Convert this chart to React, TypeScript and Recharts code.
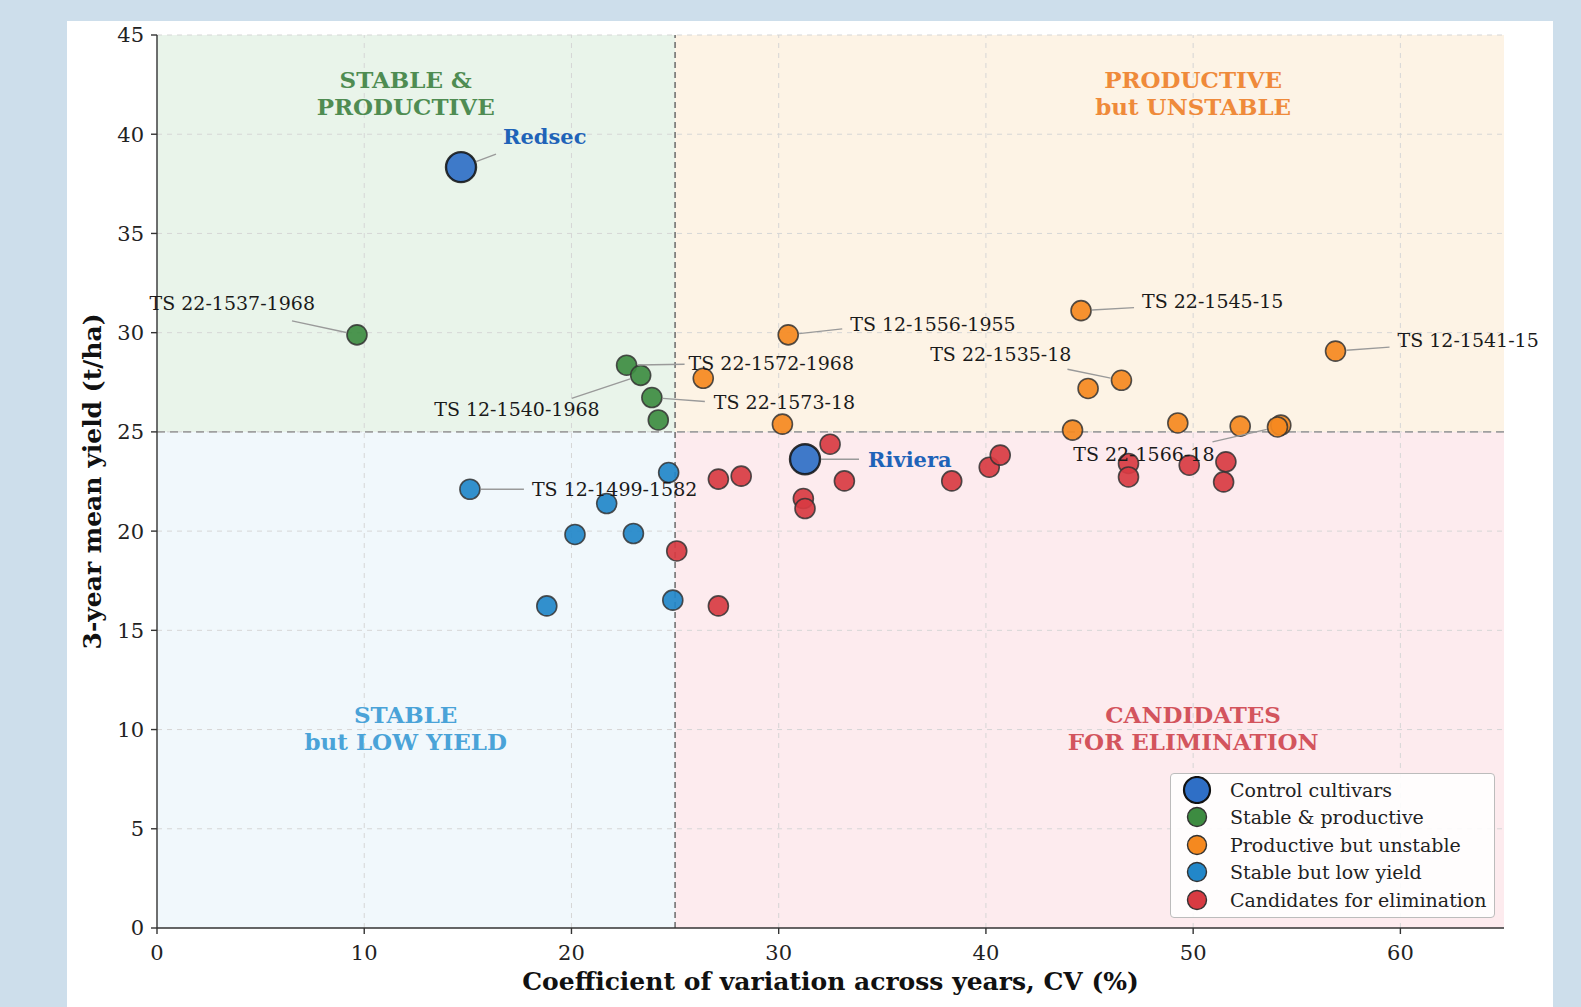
import React from 'react';
import {
  ScatterChart,
  Scatter,
  XAxis,
  YAxis,
  ReferenceArea,
  ReferenceLine,
  Legend,
} from 'recharts';

const SERIF = '"DejaVu Serif", serif';

type Pt = { cv: number; y: number; name?: string };

// values (CV %, 3-year mean yield t/ha)
const controls: Pt[] = [
  { cv: 14.67, y: 38.34, name: 'Redsec' },
  { cv: 31.27, y: 23.62, name: 'Riviera' },
];

const stableProductive: Pt[] = [
  { cv: 9.65, y: 29.89, name: 'TS 22-1537-1968' },
  { cv: 22.66, y: 28.36, name: 'TS 22-1572-1968' },
  { cv: 23.34, y: 27.85, name: 'TS 12-1540-1968' },
  { cv: 23.88, y: 26.73, name: 'TS 22-1573-18' },
  { cv: 24.19, y: 25.6 },
];

const productiveUnstable: Pt[] = [
  { cv: 26.36, y: 27.7 },
  { cv: 30.46, y: 29.89, name: 'TS 12-1556-1955' },
  { cv: 30.18, y: 25.39 },
  { cv: 44.59, y: 31.11, name: 'TS 22-1545-15' },
  { cv: 44.93, y: 27.19 },
  { cv: 46.54, y: 27.6, name: 'TS 22-1535-18' },
  { cv: 44.18, y: 25.09 },
  { cv: 49.26, y: 25.45 },
  { cv: 52.27, y: 25.29 },
  { cv: 54.23, y: 25.34 },
  { cv: 54.07, y: 25.25, name: 'TS 22-1566-18' },
  { cv: 56.87, y: 29.07, name: 'TS 12-1541-15' },
];

const stableLowYield: Pt[] = [
  { cv: 15.1, y: 22.11, name: 'TS 12-1499-1582' },
  { cv: 24.69, y: 22.95 },
  { cv: 21.7, y: 21.39 },
  { cv: 20.17, y: 19.83 },
  { cv: 22.99, y: 19.88 },
  { cv: 18.81, y: 16.23 },
  { cv: 24.89, y: 16.52 },
];

const candidates: Pt[] = [
  { cv: 32.48, y: 24.38 },
  { cv: 27.09, y: 22.62 },
  { cv: 28.19, y: 22.77 },
  { cv: 31.19, y: 21.64 },
  { cv: 31.27, y: 21.14 },
  { cv: 33.17, y: 22.53 },
  { cv: 25.08, y: 19.0 },
  { cv: 27.09, y: 16.23 },
  { cv: 38.35, y: 22.53 },
  { cv: 40.16, y: 23.22 },
  { cv: 40.69, y: 23.83 },
  { cv: 46.88, y: 23.41 },
  { cv: 46.88, y: 22.73 },
  { cv: 49.81, y: 23.32 },
  { cv: 51.58, y: 23.49 },
  { cv: 51.47, y: 22.48 },
];

const xTicks = [0, 10, 20, 30, 40, 50, 60];
const yTicks = [0, 5, 10, 15, 20, 25, 30, 35, 40, 45];
const CV_CUT = 25;
const YIELD_CUT = 25;

const quadrantLabels = [
  { cv: 12, y: 42.1, lines: ['STABLE &', 'PRODUCTIVE'], color: '#4f8c52' },
  { cv: 50, y: 42.1, lines: ['PRODUCTIVE', 'but UNSTABLE'], color: '#ef8a3a' },
  { cv: 12, y: 10.1, lines: ['STABLE', 'but LOW YIELD'], color: '#4aa3d8' },
  { cv: 50, y: 10.1, lines: ['CANDIDATES', 'FOR ELIMINATION'], color: '#d3545d' },
];

// label placement relative to the point, in pixels
const annotations = [
  { name: 'Redsec', tx: 42, ty: -31, anchor: 'start', lx: 35, ly: -13, control: true },
  { name: 'Riviera', tx: 63, ty: 0, anchor: 'start', lx: 54, ly: 0, control: true },
  { name: 'TS 22-1537-1968', tx: -42, ty: -32, anchor: 'end', lx: -65, ly: -14 },
  { name: 'TS 22-1572-1968', tx: 62, ty: -2, anchor: 'start', lx: 58, ly: -1 },
  { name: 'TS 12-1540-1968', tx: -41, ty: 34, anchor: 'end', lx: -69, ly: 23 },
  { name: 'TS 22-1573-18', tx: 62, ty: 4, anchor: 'start', lx: 53, ly: 4 },
  { name: 'TS 12-1499-1582', tx: 62, ty: 0, anchor: 'start', lx: 54, ly: 0 },
  { name: 'TS 12-1556-1955', tx: 62, ty: -11, anchor: 'start', lx: 54, ly: -6 },
  { name: 'TS 22-1545-15', tx: 61, ty: -10, anchor: 'start', lx: 53, ly: -3 },
  { name: 'TS 22-1535-18', tx: -50, ty: -26, anchor: 'end', lx: -54, ly: -11 },
  { name: 'TS 12-1541-15', tx: 62, ty: -11, anchor: 'start', lx: 54, ly: -4 },
  { name: 'TS 22-1566-18', tx: -63, ty: 27, anchor: 'end', lx: -65, ly: 15 },
];

const groups = [
  { key: 'sp', label: 'Stable & productive', data: stableProductive, fill: '#3d8c41' },
  { key: 'pu', label: 'Productive but unstable', data: productiveUnstable, fill: '#f5891f' },
  { key: 'sl', label: 'Stable but low yield', data: stableLowYield, fill: '#2287c9' },
  { key: 'ce', label: 'Candidates for elimination', data: candidates, fill: '#d83b42' },
];
const CONTROL_FILL = '#2f6fc6';
const CONTROL_TEXT = '#1f63b8';

const allPoints: Pt[] = [...controls, ...groups.flatMap((g) => g.data)];
const annotationData = annotations.map((a) => {
  const p = allPoints.find((q) => q.name === a.name)!;
  return { ...a, cv: p.cv, y: p.y };
});

const dot = (fill: string, r: number, stroke = '#333', sw = 1.6) => (props: any) => (
  <circle
    cx={props.cx}
    cy={props.cy}
    r={r}
    fill={fill}
    fillOpacity={0.92}
    stroke={stroke}
    strokeOpacity={0.85}
    strokeWidth={sw}
  />
);

const annotationShape = (props: any) => {
  const { cx, cy, payload } = props;
  const r = payload.control ? 16 : 11;
  const len = Math.hypot(payload.lx, payload.ly) || 1;
  const sx = cx + (payload.lx / len) * r;
  const sy = cy + (payload.ly / len) * r;
  return (
    <g>
      <line x1={sx} y1={sy} x2={cx + payload.lx} y2={cy + payload.ly} stroke="#9a9a9a" strokeWidth={1.4} />
      <text
        x={cx + payload.tx}
        y={cy + payload.ty}
        textAnchor={payload.anchor}
        dominantBaseline="central"
        fontFamily={SERIF}
        fontSize={payload.control ? 21 : 19}
        fontWeight={payload.control ? 'bold' : 'normal'}
        fill={payload.control ? CONTROL_TEXT : '#1a1a1a'}
      >
        {payload.name}
      </text>
    </g>
  );
};

const quadrantShape = (props: any) => {
  const { cx, cy, payload } = props;
  return (
    <g>
      {payload.lines.map((line: string, i: number) => (
        <text
          key={line}
          x={cx}
          y={cy + (i === 0 ? -13.5 : 13.5)}
          textAnchor="middle"
          dominantBaseline="central"
          fontFamily={SERIF}
          fontSize={23}
          fontWeight="bold"
          fill={payload.color}
        >
          {line}
        </text>
      ))}
    </g>
  );
};

const legendItems = [
  { label: 'Control cultivars', fill: CONTROL_FILL, r: 13, stroke: '#111', sw: 2.2 },
  ...groups.map((g) => ({ label: g.label, fill: g.fill, r: 9.5, stroke: '#333', sw: 1.4 })),
];

const renderLegend = () => (
  <div
    style={{
      boxSizing: 'border-box',
      width: 325,
      height: 145,
      background: 'rgba(255,255,255,0.88)',
      border: '1.5px solid #bcbcbc',
      borderRadius: 4,
      paddingTop: 2,
      fontFamily: SERIF,
      fontSize: 19,
      color: '#222',
    }}
  >
    {legendItems.map((it) => (
      <div key={it.label} style={{ display: 'flex', alignItems: 'center', height: 27.5 }}>
        <svg width={54} height={28} style={{ flex: 'none' }}>
          <circle cx={26} cy={14} r={it.r} fill={it.fill} stroke={it.stroke} strokeWidth={it.sw} />
        </svg>
        <span style={{ marginLeft: 5, whiteSpace: 'nowrap' }}>{it.label}</span>
      </div>
    ))}
  </div>
);

const gridStyle = { stroke: '#d6d6d6', strokeDasharray: '5 5', strokeWidth: 1 };

export default function App() {
  return (
    <div
      style={{
        position: 'fixed',
        left: 0,
        top: 0,
        width: 1581,
        height: 1007,
        background: '#cddeeb',
        overflow: 'hidden',
      }}
    >
      <div
        style={{
          position: 'absolute',
          left: 67,
          top: 21,
          width: 1486,
          height: 1000,
          background: '#ffffff',
        }}
      />
      <div style={{ position: 'absolute', left: 0, top: 0 }}>
        <ScatterChart width={1581} height={1007} margin={{ top: 35, right: 77, bottom: 29, left: 97 }}>
          <XAxis
            type="number"
            dataKey="cv"
            domain={[0, 65]}
            ticks={xTicks}
            height={50}
            tickSize={6}
            tickMargin={11}
            stroke="#333"
            strokeWidth={1.4}
            tick={{ fontFamily: SERIF, fontSize: 21, fill: '#222' }}
            label={{
              content: (p: any) => (
                <text
                  x={p.viewBox.x + p.viewBox.width / 2}
                  y={p.viewBox.y + 53}
                  textAnchor="middle"
                  dominantBaseline="central"
                  fontFamily={SERIF}
                  fontSize={25}
                  fontWeight="bold"
                  fill="#111"
                >
                  Coefficient of variation across years, CV (%)
                </text>
              ),
            }}
          />
          <YAxis
            type="number"
            dataKey="y"
            domain={[0, 45]}
            ticks={yTicks}
            width={60}
            tickSize={6}
            tickMargin={7}
            stroke="#333"
            strokeWidth={1.4}
            tick={{ fontFamily: SERIF, fontSize: 21, fill: '#222' }}
            label={{
              content: (p: any) => {
                const x = p.viewBox.x + p.viewBox.width - 65;
                const y = p.viewBox.y + p.viewBox.height / 2;
                return (
                  <text
                    x={x}
                    y={y}
                    transform={`rotate(-90 ${x} ${y})`}
                    textAnchor="middle"
                    dominantBaseline="central"
                    fontFamily={SERIF}
                    fontSize={25}
                    fontWeight="bold"
                    fill="#111"
                  >
                    3-year mean yield (t/ha)
                  </text>
                );
              },
            }}
          />

          <ReferenceArea x1={0} x2={CV_CUT} y1={YIELD_CUT} y2={45} fill="#e9f4ea" fillOpacity={1} stroke="none" />
          <ReferenceArea x1={CV_CUT} x2={65} y1={YIELD_CUT} y2={45} fill="#fdf3e5" fillOpacity={1} stroke="none" />
          <ReferenceArea x1={0} x2={CV_CUT} y1={0} y2={YIELD_CUT} fill="#f1f8fc" fillOpacity={1} stroke="none" />
          <ReferenceArea x1={CV_CUT} x2={65} y1={0} y2={YIELD_CUT} fill="#fdebee" fillOpacity={1} stroke="none" />

          {xTicks.slice(1).map((t) => (
            <ReferenceLine key={`gx${t}`} x={t} {...gridStyle} />
          ))}
          {yTicks.slice(1).map((t) => (
            <ReferenceLine key={`gy${t}`} y={t} {...gridStyle} />
          ))}

          <ReferenceLine x={CV_CUT} stroke="#6a6a6a" strokeWidth={1.5} strokeDasharray="6 4" />
          <ReferenceLine y={YIELD_CUT} stroke="#a0a0a0" strokeWidth={1.8} strokeDasharray="8 5" />

          <Scatter data={quadrantLabels} shape={quadrantShape} isAnimationActive={false} legendType="none" />

          {groups.map((g) => (
            <Scatter
              key={g.key}
              name={g.label}
              data={g.data}
              fill={g.fill}
              shape={dot(g.fill, 10)}
              isAnimationActive={false}
            />
          ))}
          <Scatter
            name="Control cultivars"
            data={controls}
            fill={CONTROL_FILL}
            shape={dot(CONTROL_FILL, 15, '#111', 2.4)}
            isAnimationActive={false}
          />
          <Scatter data={annotationData} shape={annotationShape} isAnimationActive={false} legendType="none" />

          <Legend
            layout="horizontal"
            verticalAlign="middle"
            align="center"
            content={renderLegend}
            wrapperStyle={{ position: 'absolute', left: 1170, top: 773, width: 325, height: 145 }}
          />
        </ScatterChart>
      </div>
    </div>
  );
}
